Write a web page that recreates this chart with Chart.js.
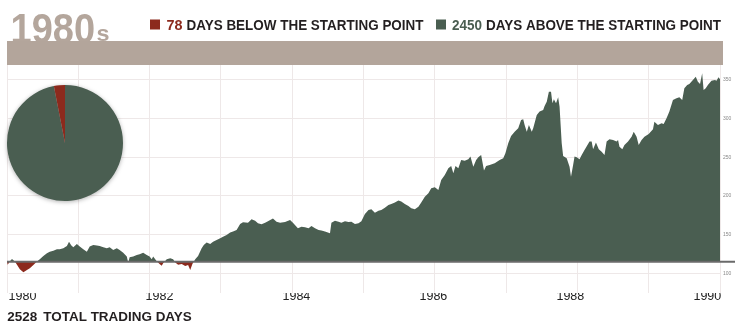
<!DOCTYPE html>
<html>
<head>
<meta charset="utf-8">
<script src="https://cdn.jsdelivr.net/npm/chart.js@4.4.1/dist/chart.umd.min.js"></script>
<style>
  html, body { margin: 0; padding: 0; background: #fff; }
  #wrap { position: relative; width: 743px; height: 332px; }
  #main { position: absolute; left: 0; top: 0; }
  #pie { position: absolute; left: 5px; top: 83px; filter: drop-shadow(0 1px 2px rgba(0,0,0,0.3)); }
</style>
</head>
<body>
<div id="wrap">
  <canvas id="main" width="743" height="332"></canvas>
  <canvas id="pie" width="120" height="120"></canvas>
</div>
<script>
// index level, decimal years
const years = [
  1980.00, 1980.01, 1980.04, 1980.07, 1980.11, 1980.14, 1980.18, 1980.23, 1980.28, 1980.32,
  1980.37, 1980.42, 1980.46, 1980.51, 1980.56, 1980.60, 1980.65, 1980.70, 1980.74, 1980.79,
  1980.84, 1980.87, 1980.90, 1980.93, 1980.98, 1981.02, 1981.07, 1981.12, 1981.16, 1981.21,
  1981.26, 1981.30, 1981.35, 1981.40, 1981.44, 1981.49, 1981.54, 1981.58, 1981.63, 1981.68,
  1981.70, 1981.72, 1981.77, 1981.82, 1981.86, 1981.91, 1981.96, 1982.00, 1982.03, 1982.05,
  1982.10, 1982.14, 1982.17, 1982.19, 1982.24, 1982.29, 1982.33, 1982.36, 1982.40, 1982.45,
  1982.50, 1982.54, 1982.57, 1982.60, 1982.64, 1982.68, 1982.73, 1982.76, 1982.80, 1982.85,
  1982.89, 1982.94, 1982.99, 1983.03, 1983.08, 1983.13, 1983.17, 1983.22, 1983.27, 1983.31,
  1983.38, 1983.43, 1983.48, 1983.52, 1983.57, 1983.62, 1983.66, 1983.73, 1983.78, 1983.83,
  1983.90, 1983.97, 1984.01, 1984.08, 1984.13, 1984.18, 1984.23, 1984.27, 1984.32, 1984.37,
  1984.41, 1984.46, 1984.53, 1984.55, 1984.60, 1984.65, 1984.69, 1984.74, 1984.79, 1984.83,
  1984.88, 1984.93, 1984.97, 1985.02, 1985.07, 1985.11, 1985.16, 1985.21, 1985.25, 1985.30,
  1985.35, 1985.39, 1985.44, 1985.49, 1985.53, 1985.58, 1985.63, 1985.67, 1985.72, 1985.77,
  1985.81, 1985.86, 1985.91, 1985.95, 1986.00, 1986.05, 1986.09, 1986.14, 1986.19, 1986.23,
  1986.26, 1986.29, 1986.33, 1986.37, 1986.42, 1986.47, 1986.50, 1986.54, 1986.58, 1986.61,
  1986.65, 1986.69, 1986.72, 1986.77, 1986.84, 1986.91, 1986.96, 1986.99, 1987.03, 1987.07,
  1987.12, 1987.17, 1987.21, 1987.24, 1987.26, 1987.29, 1987.32, 1987.36, 1987.38, 1987.43,
  1987.47, 1987.52, 1987.54, 1987.57, 1987.60, 1987.63, 1987.65, 1987.67, 1987.70, 1987.73,
  1987.75, 1987.78, 1987.80, 1987.85, 1987.89, 1987.91, 1987.94, 1987.96, 1987.99, 1988.03,
  1988.06, 1988.10, 1988.17, 1988.20, 1988.22, 1988.26, 1988.30, 1988.34, 1988.38, 1988.41,
  1988.45, 1988.50, 1988.55, 1988.57, 1988.59, 1988.63, 1988.66, 1988.71, 1988.76, 1988.79,
  1988.83, 1988.86, 1988.90, 1988.94, 1989.00, 1989.06, 1989.08, 1989.13, 1989.18, 1989.21,
  1989.25, 1989.29, 1989.34, 1989.39, 1989.43, 1989.47, 1989.50, 1989.54, 1989.57, 1989.62,
  1989.66, 1989.69, 1989.72, 1989.75, 1989.77, 1989.80, 1989.83, 1989.88, 1989.93, 1989.95,
  1989.98, 1990.00
];
const values = [
  115.0, 111.2, 115.5, 118.5, 115.1, 111.2, 105.2, 101.3, 104.3, 106.5,
  110.8, 115.1, 118.1, 122.4, 125.9, 128.0, 129.3, 131.0, 131.0, 132.3,
  135.3, 140.9, 136.2, 133.6, 137.9, 134.5, 131.0, 128.0, 134.5, 136.6,
  135.8, 135.3, 133.6, 132.3, 133.6, 130.2, 132.3, 130.2, 126.7, 121.6,
  113.8, 120.7, 121.6, 123.7, 124.6, 126.7, 123.7, 121.6, 118.1, 121.6,
  115.5, 112.1, 109.9, 112.9, 118.1, 119.4, 118.1, 113.8, 111.2, 112.1,
  109.5, 110.8, 104.3, 112.1, 118.1, 122.4, 132.3, 136.6, 139.7, 137.9,
  140.9, 143.1, 145.3, 147.4, 149.6, 152.6, 153.9, 156.0, 163.8, 165.9,
  165.5, 169.8, 168.1, 164.7, 163.4, 165.5, 167.2, 170.7, 166.8, 165.5,
  166.4, 169.0, 165.5, 158.2, 160.3, 159.5, 158.2, 161.2, 158.2, 156.0,
  155.2, 153.9, 151.7, 165.5, 168.1, 166.8, 165.5, 167.2, 166.4, 166.8,
  163.8, 164.7, 167.2, 176.7, 181.9, 182.8, 178.4, 181.0, 181.9, 184.9,
  188.4, 189.7, 191.4, 194.0, 192.7, 189.7, 187.1, 184.1, 182.8, 186.2,
  191.4, 199.1, 203.4, 209.9, 211.2, 207.8, 220.7, 227.2, 235.8, 238.8,
  229.3, 238.8, 235.8, 246.6, 245.7, 247.4, 250.9, 237.9, 246.6, 250.0,
  253.0, 232.8, 238.8, 240.0, 242.2, 246.6, 248.7, 255.2, 268.1, 277.6,
  283.2, 287.5, 298.3, 299.1, 291.8, 283.2, 291.8, 283.2, 287.5, 304.7,
  309.1, 311.2, 316.4, 322.0, 334.9, 334.9, 319.8, 325.0, 319.8, 327.6,
  315.5, 268.1, 251.7, 248.7, 237.9, 225.0, 240.1, 250.9, 250.0, 247.4,
  253.0, 259.5, 270.3, 270.3, 260.3, 269.0, 260.3, 257.3, 253.0, 270.3,
  273.3, 272.4, 270.3, 272.4, 263.8, 260.3, 266.0, 270.3, 276.7, 283.2,
  276.7, 266.0, 272.4, 276.7, 280.2, 286.2, 296.1, 291.8, 294.0, 293.1,
  300.4, 309.1, 324.1, 326.3, 327.6, 324.1, 339.2, 343.5, 344.8, 350.0,
  354.3, 347.8, 344.8, 358.6, 337.1, 339.2, 343.5, 349.1, 350.0, 349.1,
  353.4, 350.9
];
const yearLabels = [1980, 1982, 1984, 1986, 1988, 1990];
const gridYears = [1980, 1981, 1982, 1983, 1984, 1985, 1986, 1987, 1988, 1989, 1990];
const yTicks = [100, 150, 200, 250, 300, 350];
const daysBelow = 78;
const daysAbove = 2450;
const totalDays = 2528;

const startValue = values[0];
const GREEN = '#4a5e51';
const RED = '#8c2a1d';
const GRID = '#eee8e8';
const FONT = '"Liberation Sans Narrow", "Liberation Sans", Arial, sans-serif';

// draws text squeezed/stretched to a given width
function fitText(ctx, text, x, baseline, width, font, color) {
  ctx.save();
  ctx.font = font;
  ctx.fillStyle = color;
  ctx.textBaseline = 'alphabetic';
  ctx.textAlign = 'left';
  const w = ctx.measureText(text).width;
  ctx.translate(x, baseline);
  ctx.scale(width / w, 1);
  ctx.fillText(text, 0, 0);
  ctx.restore();
}

const decorPlugin = {
  id: 'decor',
  beforeDraw(chart) {
    const ctx = chart.ctx;
    ctx.save();
    ctx.fillStyle = '#fff';
    ctx.fillRect(0, 0, chart.width, chart.height);

    // big decade title, partly hidden by the band
    fitText(ctx, '1980', 10.5, 43, 84.5, 'bold 42px ' + FONT, '#b4a69c');
    fitText(ctx, 's', 96.5, 41, 13, 'bold 22px ' + FONT, '#b4a69c');

    ctx.fillStyle = '#b3a59b';
    ctx.fillRect(7, 41, 716, 24);

    // legend
    ctx.fillStyle = RED;
    ctx.fillRect(150, 19.5, 10, 10);
    fitText(ctx, String(daysBelow), 166.5, 29.5, 16, 'bold 14px ' + FONT, RED);
    fitText(ctx, 'DAYS BELOW THE STARTING POINT', 186.5, 29.5, 237, 'bold 14px ' + FONT, '#231f20');
    ctx.fillStyle = GREEN;
    ctx.fillRect(436, 19.5, 10, 10);
    fitText(ctx, String(daysAbove), 452, 29.5, 30, 'bold 14px ' + FONT, GREEN);
    fitText(ctx, 'DAYS ABOVE THE STARTING POINT', 486, 29.5, 235, 'bold 14px ' + FONT, '#231f20');

    // footer
    fitText(ctx, String(totalDays), 7.3, 320.5, 30, 'bold 13px ' + FONT, '#231f20');
    fitText(ctx, 'TOTAL TRADING DAYS', 43.3, 320.5, 148.5, 'bold 13px ' + FONT, '#231f20');
    ctx.restore();
  },
  afterDatasetsDraw(chart) {
    const ctx = chart.ctx;
    const y = chart.scales.y.getPixelForValue(startValue);
    ctx.save();
    ctx.strokeStyle = '#6a6a6a';
    ctx.lineWidth = 2;
    ctx.beginPath();
    ctx.moveTo(chart.chartArea.left, y);
    ctx.lineTo(735, y);
    ctx.stroke();
    ctx.restore();
  }
};

const points = years.map((yr, i) => ({ x: yr, y: values[i] }));

new Chart(document.getElementById('main'), {
  type: 'line',
  data: {
    datasets: [{
      data: points,
      xAxisID: 'x',
      yAxisID: 'y',
      borderWidth: 0,
      borderColor: GREEN,
      pointRadius: 0,
      tension: 0,
      fill: { target: { value: startValue }, above: GREEN, below: RED }
    }]
  },
  options: {
    responsive: false,
    animation: false,
    layout: { padding: { left: 7, top: 65, right: 0, bottom: 0 } },
    plugins: {
      legend: { display: false },
      tooltip: { enabled: false }
    },
    scales: {
      x: {
        type: 'linear',
        position: 'bottom',
        min: 1980,
        max: 1990,
        afterBuildTicks: s => { s.ticks = gridYears.map(v => ({ value: v })); },
        ticks: { display: false },
        grid: { color: GRID, drawTicks: false },
        border: { display: false },
        afterFit: s => { s.height = 0; }
      },
      xl: {
        type: 'linear',
        position: 'bottom',
        min: 1979.774,
        max: 1990.185,
        afterBuildTicks: s => { s.ticks = yearLabels.map(v => ({ value: v })); },
        ticks: {
          padding: -4,
          maxRotation: 0,
          autoSkip: false,
          color: '#222',
          font: { family: '"Liberation Sans", Arial, sans-serif', size: 12.5 },
          callback: v => String(v)
        },
        grid: { display: false, drawTicks: false },
        border: { display: false },
        afterFit: s => { s.height = 39; }
      },
      y: {
        type: 'linear',
        position: 'right',
        min: 74.5,
        max: 369.4,
        afterBuildTicks: s => { s.ticks = yTicks.map(v => ({ value: v })); },
        ticks: { padding: 3, color: '#888', font: { size: 5 } },
        grid: { color: GRID, drawTicks: false },
        border: { display: false },
        afterFit: s => { s.width = 23; }
      }
    }
  },
  plugins: [decorPlugin]
});

// share of days below / above the start
new Chart(document.getElementById('pie'), {
  type: 'pie',
  data: {
    labels: ['Above', 'Below'],
    datasets: [{
      data: [daysAbove, daysBelow],
      backgroundColor: [GREEN, RED],
      borderWidth: 0
    }]
  },
  options: {
    responsive: false,
    animation: false,
    layout: { padding: 2 },
    plugins: {
      legend: { display: false },
      tooltip: { enabled: false }
    }
  }
});
</script>
</body>
</html>
